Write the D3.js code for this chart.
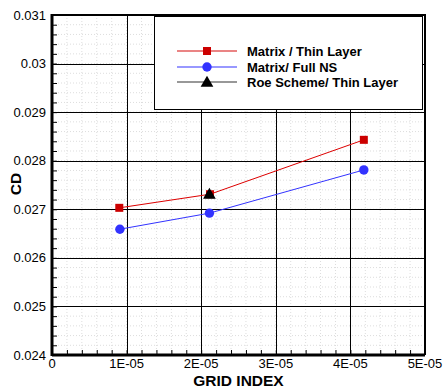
<!DOCTYPE html>
<html>
<head>
<meta charset="utf-8">
<script src="https://cdn.jsdelivr.net/npm/d3@7"></script>
<style>
  body { margin: 0; background: #fff; }
  text { font-family: Arial, "Liberation Sans", sans-serif; }
</style>
</head>
<body>
<script>
// data
var xTicks = [0, 1e-5, 2e-5, 3e-5, 4e-5, 5e-5];
var xTickLabels = ["0", "1E-05", "2E-05", "3E-05", "4E-05", "5E-05"];
var yTicks = [0.024, 0.025, 0.026, 0.027, 0.028, 0.029, 0.03, 0.031];
var yTickLabels = ["0.024", "0.025", "0.026", "0.027", "0.028", "0.029", "0.03", "0.031"];

var matrixThinX = [0.902e-5, 2.118e-5, 4.18e-5];
var matrixThinY = [0.02703, 0.02731, 0.02843];
var matrixFullX = [0.91e-5, 2.11e-5, 4.18e-5];
var matrixFullY = [0.02659, 0.02692, 0.02781];
var roeThinX = [2.11e-5];
var roeThinY = [0.02729];

var seriesNames = ["Matrix / Thin Layer", "Matrix/ Full NS", "Roe Scheme/ Thin Layer"];

var width = 443, height = 388;
var plotL = 52, plotR = 425, plotT = 15, plotB = 355;

var x = d3.scaleLinear().domain([0, 5e-5]).range([plotL, plotR]);
var y = d3.scaleLinear().domain([0.024, 0.031]).range([plotB, plotT]);

var svg = d3.select("body").append("svg")
  .attr("width", width)
  .attr("height", height);

// minor dotted grid
var xMinor = d3.range(0, 5e-5 + 1e-12, 2e-6);
var yMinor = d3.range(0.024, 0.031 + 1e-9, 0.0002);

svg.append("g").selectAll("line")
  .data(xMinor)
  .enter().append("line")
  .attr("x1", d => x(d)).attr("x2", d => x(d))
  .attr("y1", plotT).attr("y2", plotB)
  .style("stroke", "#ddd").style("stroke-dasharray", "1,2");

svg.append("g").selectAll("line")
  .data(yMinor)
  .enter().append("line")
  .attr("y1", d => y(d)).attr("y2", d => y(d))
  .attr("x1", plotL).attr("x2", plotR)
  .style("stroke", "#ddd").style("stroke-dasharray", "1,2");

// major grid
svg.append("g").selectAll("line")
  .data(xTicks)
  .enter().append("line")
  .attr("x1", d => Math.round(x(d)) + 0.5).attr("x2", d => Math.round(x(d)) + 0.5)
  .attr("y1", plotT).attr("y2", plotB)
  .style("stroke", "#000").style("stroke-width", 1);

svg.append("g").selectAll("line")
  .data(yTicks)
  .enter().append("line")
  .attr("y1", d => Math.round(y(d)) + 0.5).attr("y2", d => Math.round(y(d)) + 0.5)
  .attr("x1", plotL).attr("x2", plotR)
  .style("stroke", "#000").style("stroke-width", 1);

// axes with inward ticks
var xAxis = d3.axisBottom(x).tickValues(xMinor).tickSize(-5).tickFormat("");
var yAxis = d3.axisLeft(y).tickValues(yMinor).tickSize(-5).tickFormat("");

svg.append("g")
  .attr("transform", "translate(0," + plotB + ")")
  .call(xAxis)
  .call(g => g.select(".domain").remove())
  .selectAll("line").style("stroke", "#000");

svg.append("g")
  .attr("transform", "translate(" + plotL + ",0)")
  .call(yAxis)
  .call(g => g.select(".domain").remove())
  .selectAll("line").style("stroke", "#000");

// frame
svg.append("line").attr("x1", plotL).attr("x2", plotL).attr("y1", plotT - 1).attr("y2", plotB + 1)
  .style("stroke", "#000").style("stroke-width", 3);
svg.append("line").attr("x1", plotL).attr("x2", plotR).attr("y1", plotB).attr("y2", plotB)
  .style("stroke", "#000").style("stroke-width", 3);
svg.append("line").attr("x1", plotL).attr("x2", plotR + 1).attr("y1", plotT).attr("y2", plotT)
  .style("stroke", "#000").style("stroke-width", 2);
svg.append("line").attr("x1", plotR).attr("x2", plotR).attr("y1", plotT).attr("y2", plotB)
  .style("stroke", "#000").style("stroke-width", 2);

// tick labels
svg.append("g").selectAll("text")
  .data(xTicks)
  .enter().append("text")
  .attr("x", d => x(d))
  .attr("y", plotB + 13)
  .attr("text-anchor", "middle")
  .style("font-size", "13px")
  .text((d, i) => xTickLabels[i]);

svg.append("g").selectAll("text")
  .data(yTicks)
  .enter().append("text")
  .attr("x", plotL - 6)
  .attr("y", d => y(d) + 4.5)
  .attr("text-anchor", "end")
  .style("font-size", "13px")
  .text((d, i) => yTickLabels[i]);

// axis titles
svg.append("text")
  .attr("x", (plotL + plotR) / 2)
  .attr("y", 386)
  .attr("text-anchor", "middle")
  .style("font-size", "15.5px").style("font-weight", "bold")
  .text("GRID INDEX");

svg.append("text")
  .attr("transform", "translate(21,184) rotate(-90)")
  .attr("text-anchor", "middle")
  .style("font-size", "15.5px").style("font-weight", "bold")
  .text("CD");

// series
var line = d3.line().x(d => x(d[0])).y(d => y(d[1]));
var red = d3.zip(matrixThinX, matrixThinY);
var blue = d3.zip(matrixFullX, matrixFullY);
var black = d3.zip(roeThinX, roeThinY);

svg.append("path").datum(red).attr("d", line)
  .style("fill", "none").style("stroke", "#dd0000").style("stroke-width", 1);
svg.append("path").datum(blue).attr("d", line)
  .style("fill", "none").style("stroke", "#3333ff").style("stroke-width", 1);

svg.append("g").selectAll("circle")
  .data(blue).enter().append("circle")
  .attr("cx", d => x(d[0])).attr("cy", d => y(d[1])).attr("r", 4.7)
  .style("fill", "#3333ff");

svg.append("g").selectAll("rect")
  .data(red).enter().append("rect")
  .attr("x", d => x(d[0]) - 4).attr("y", d => y(d[1]) - 4)
  .attr("width", 8).attr("height", 8)
  .style("fill", "#cc0000");

var tri = d3.symbol().type(d3.symbolTriangle).size(70);
svg.append("g").selectAll("path")
  .data(black).enter().append("path")
  .attr("transform", d => "translate(" + x(d[0]) + "," + y(d[1]) + ")")
  .attr("d", tri)
  .style("fill", "#000");

// legend
var legend = svg.append("g");
legend.append("rect")
  .attr("x", 154.5).attr("y", 16.5).attr("width", 268).attr("height", 93)
  .style("fill", "#fff").style("stroke", "#000");

var legendColors = ["#dd3333", "#5555ff", "#555"];
var legendFill = ["#cc0000", "#3333ff", "#000"];
var legendY = [51, 67, 82];

seriesNames.forEach(function(name, i) {
  var ly = legendY[i];
  legend.append("line")
    .attr("x1", 177).attr("x2", 237).attr("y1", ly).attr("y2", ly)
    .style("stroke", legendColors[i]).style("stroke-width", 1.5).style("opacity", 0.8);
  if (i == 0) {
    legend.append("rect").attr("x", 203).attr("y", ly - 4).attr("width", 8).attr("height", 8)
      .style("fill", legendFill[i]);
  } else if (i == 1) {
    legend.append("circle").attr("cx", 207).attr("cy", ly).attr("r", 4.7)
      .style("fill", legendFill[i]);
  } else {
    legend.append("path").attr("transform", "translate(207," + (ly + 1) + ")")
      .attr("d", tri).style("fill", legendFill[i]);
  }
  legend.append("text")
    .attr("x", 247).attr("y", ly + 4.5)
    .style("font-size", "13px").style("font-weight", "bold")
    .text(name);
});
</script>
</body>
</html>
